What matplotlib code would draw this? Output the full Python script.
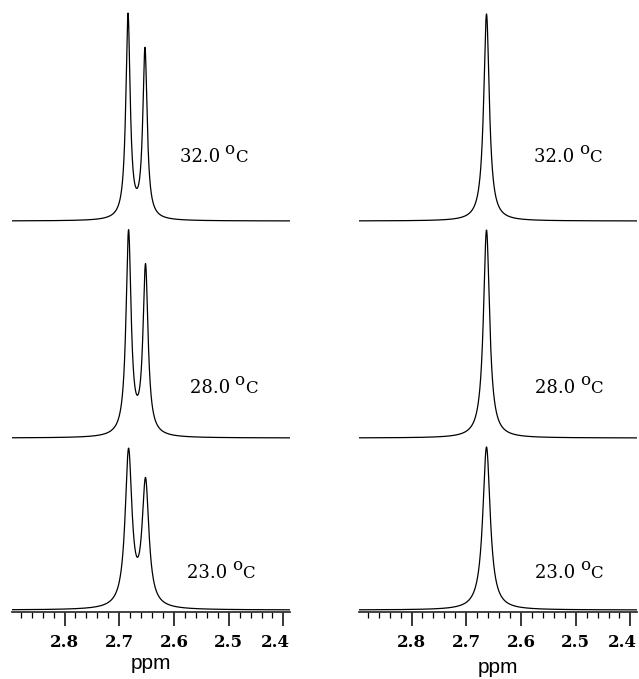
import matplotlib
matplotlib.use('Agg')
import matplotlib.pyplot as plt
import matplotlib.transforms as mtransforms
import numpy as np
from matplotlib.ticker import MultipleLocator

plt.rc('font', family='DejaVu Serif')

# temperatures, top to bottom
temps = ['32.0', '28.0', '23.0']

# left column: doublet (ppm positions, heights, half widths)
left_pos1 = [2.684, 2.683, 2.683]
left_pos2 = [2.653, 2.652, 2.652]
left_amp1 = [204, 203, 155]
left_amp2 = [169, 168, 124]
left_hw = [0.0048, 0.0056, 0.0075]

# right column: single line
right_pos = [2.663, 2.663, 2.663]
right_amp = [207, 208, 163]
right_hw = [0.0062, 0.0068, 0.0082]

# label anchor (ppm) for each row
left_lab_x = [2.589, 2.571, 2.576]
right_lab_x = [2.576, 2.574, 2.574]

offsets = [391, 174, 2]
lab_y = [450, 219, 34]

ppm = np.linspace(2.896, 2.388, 3000)


def lor(x, x0, a, g):
    return a / (1 + ((x - x0) / g) ** 2)


def temp_label(ax, x, y, s):
    t1 = ax.text(x, y, s + ' ', fontsize=13, va='baseline', ha='left')
    t2 = ax.annotate('o', xy=(1, 0), xycoords=t1, xytext=(-1, 5.5),
                     textcoords='offset points', fontsize=12,
                     va='bottom', ha='left')
    ax.annotate('C', xy=(1, 0), xycoords=t2, xytext=(0.3, -5.5),
                textcoords='offset points', fontsize=12,
                va='bottom', ha='left')


fig = plt.figure(figsize=(6.39, 6.79), dpi=100)
W, H = 639.0, 679.0
axL = fig.add_axes([12 / W, (H - 612) / H, 278 / W, 612 / H])
axR = fig.add_axes([359 / W, (H - 612) / H, 278 / W, 612 / H])

for i in range(3):
    yl = (lor(ppm, left_pos1[i], left_amp1[i], left_hw[i])
          + lor(ppm, left_pos2[i], left_amp2[i], left_hw[i]))
    axL.plot(ppm, yl + offsets[i], color='black', lw=0.9)
    yr = lor(ppm, right_pos[i], right_amp[i], right_hw[i])
    axR.plot(ppm, yr + offsets[i], color='black', lw=0.9)
    temp_label(axL, left_lab_x[i], lab_y[i], temps[i])
    temp_label(axR, right_lab_x[i], lab_y[i], temps[i])

for ax in (axL, axR):
    ax.set_xlim(2.896, 2.388)
    ax.set_ylim(0, 612)
    for s in ('top', 'left', 'right'):
        ax.spines[s].set_visible(False)
    ax.spines['bottom'].set_linewidth(1.3)
    ax.spines['bottom'].set_color('#333333')
    ax.set_yticks([])
    ax.xaxis.set_major_locator(MultipleLocator(0.1))
    ax.xaxis.set_minor_locator(MultipleLocator(0.02))
    ax.tick_params(axis='x', which='major', direction='out', length=10,
                   width=1.1, pad=6, labelsize=12)
    ax.tick_params(axis='x', which='minor', direction='out', length=4,
                   width=0.9)
    ax.set_xlabel('ppm', family='Liberation Sans', fontsize=15, labelpad=2)
    ax.patch.set_visible(False)
    fig.canvas.draw()
    for t in ax.get_xticklabels():
        t.set_fontweight('bold')
        if t.get_text() == '2.4':
            t.set_transform(t.get_transform() + mtransforms.ScaledTranslation(
                -8 / 100, 0, fig.dpi_scale_trans))

axR.xaxis.labelpad = 5

plt.savefig('out.png', dpi=100)
